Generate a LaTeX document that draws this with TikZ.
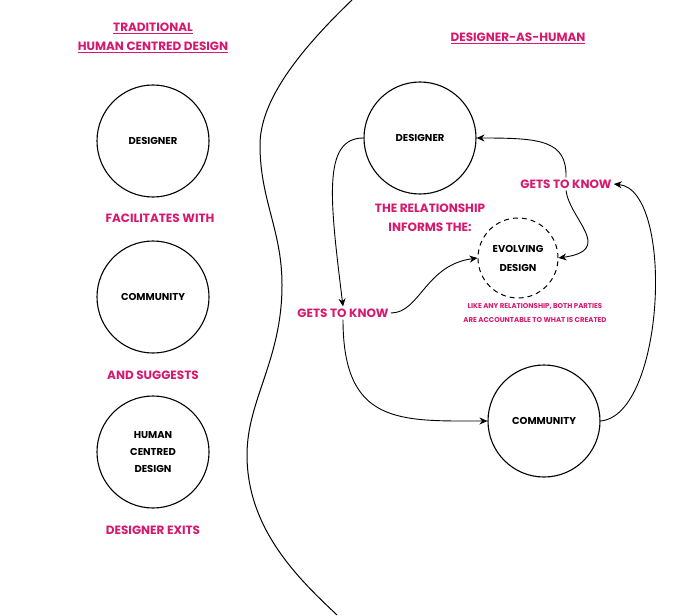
\documentclass[tikz,border=0pt]{standalone}
\usepackage{fontspec}
\setmainfont{Poppins}
\usetikzlibrary{arrows.meta}
\definecolor{hotpink}{RGB}{214,24,110}
\tikzstyle{person} = [circle, draw=black, line width=1.1pt, minimum size=112pt, inner sep=0pt, align=center, font=\fontsize{10}{17}\selectfont\bfseries]
\tikzstyle{outcome} = [circle, draw=black, line width=1pt, dashed, dash pattern=on 5pt off 4pt, minimum size=80pt, inner sep=0pt, align=center, font=\fontsize{10}{19}\selectfont\bfseries]
\tikzstyle{note} = [text=hotpink, align=center, inner sep=2pt, font=\fontsize{12}{19}\selectfont\bfseries]
\tikzstyle{small note} = [text=hotpink, align=center, font=\fontsize{7}{14}\selectfont\bfseries]
\tikzstyle{arrow} = [line width=0.9pt, -{Stealth[length=8pt, width=7pt]}]

\begin{document}
\begin{tikzpicture}[x=1pt, y=-1pt]
        \useasboundingbox (0,0) rectangle (700,615);
        % left: traditional
        \node (title1) [note] at (153,38) {\underline{TRADITIONAL}\\\underline{HUMAN CENTRED DESIGN}};
        \node (des1) [person] at (153,141) {DESIGNER};
        \node (fac) [note] at (160,218) {FACILITATES WITH};
        \node (com1) [person] at (153,297) {COMMUNITY};
        \node (sug) [note] at (153,375) {AND SUGGESTS};
        \node (hcd) [person] at (153,452) {HUMAN\\CENTRED\\DESIGN};
        \node (exits) [note] at (153,530) {DESIGNER EXITS};
        % divider
        \draw [line width=1pt] (352,0) .. controls (300,50) and (260,100) .. (260,145)
            .. controls (260,200) and (282,230) .. (282,285)
            .. controls (282,360) and (247,400) .. (247,455)
            .. controls (247,530) and (300,580) .. (337,615);
        % right: designer as human
        \node (title2) [note] at (518,38) {\underline{DESIGNER-AS-HUMAN}};
        \node (des2) [person] at (420,138) {DESIGNER};
        \node (com2) [person] at (544,421) {COMMUNITY};
        \node (evo) [outcome] at (518,258) {EVOLVING\\DESIGN};
        \node (rel) [note] at (430,218) {THE RELATIONSHIP\\INFORMS THE:};
        \node (know1) [note] at (343,313) {GETS TO KNOW};
        \node (know2) [note] at (566,184) {GETS TO KNOW};
        \node (acc) [small note] at (535,313) {LIKE ANY RELATIONSHIP, BOTH PARTIES\\ARE ACCOUNTABLE TO WHAT IS CREATED};
        \draw [arrow] (des2.west) .. controls (322,138) and (330,200) .. (know1.north);
        \draw [arrow] (know1.east) .. controls (420,313) and (425,265) .. (evo.west);
        \draw [arrow] (know1.south) .. controls (343,425) and (400,421) .. (com2.west);
        \draw [arrow] (com2.east) .. controls (665,415) and (675,190) .. (know2.east);
        \draw [arrow] (know2.north) .. controls (567,140) and (540,138) .. (des2.east);
        \draw [arrow] (know2.south) .. controls (570,220) and (615,250) .. (evo.east);
    \end{tikzpicture}
\end{document}
